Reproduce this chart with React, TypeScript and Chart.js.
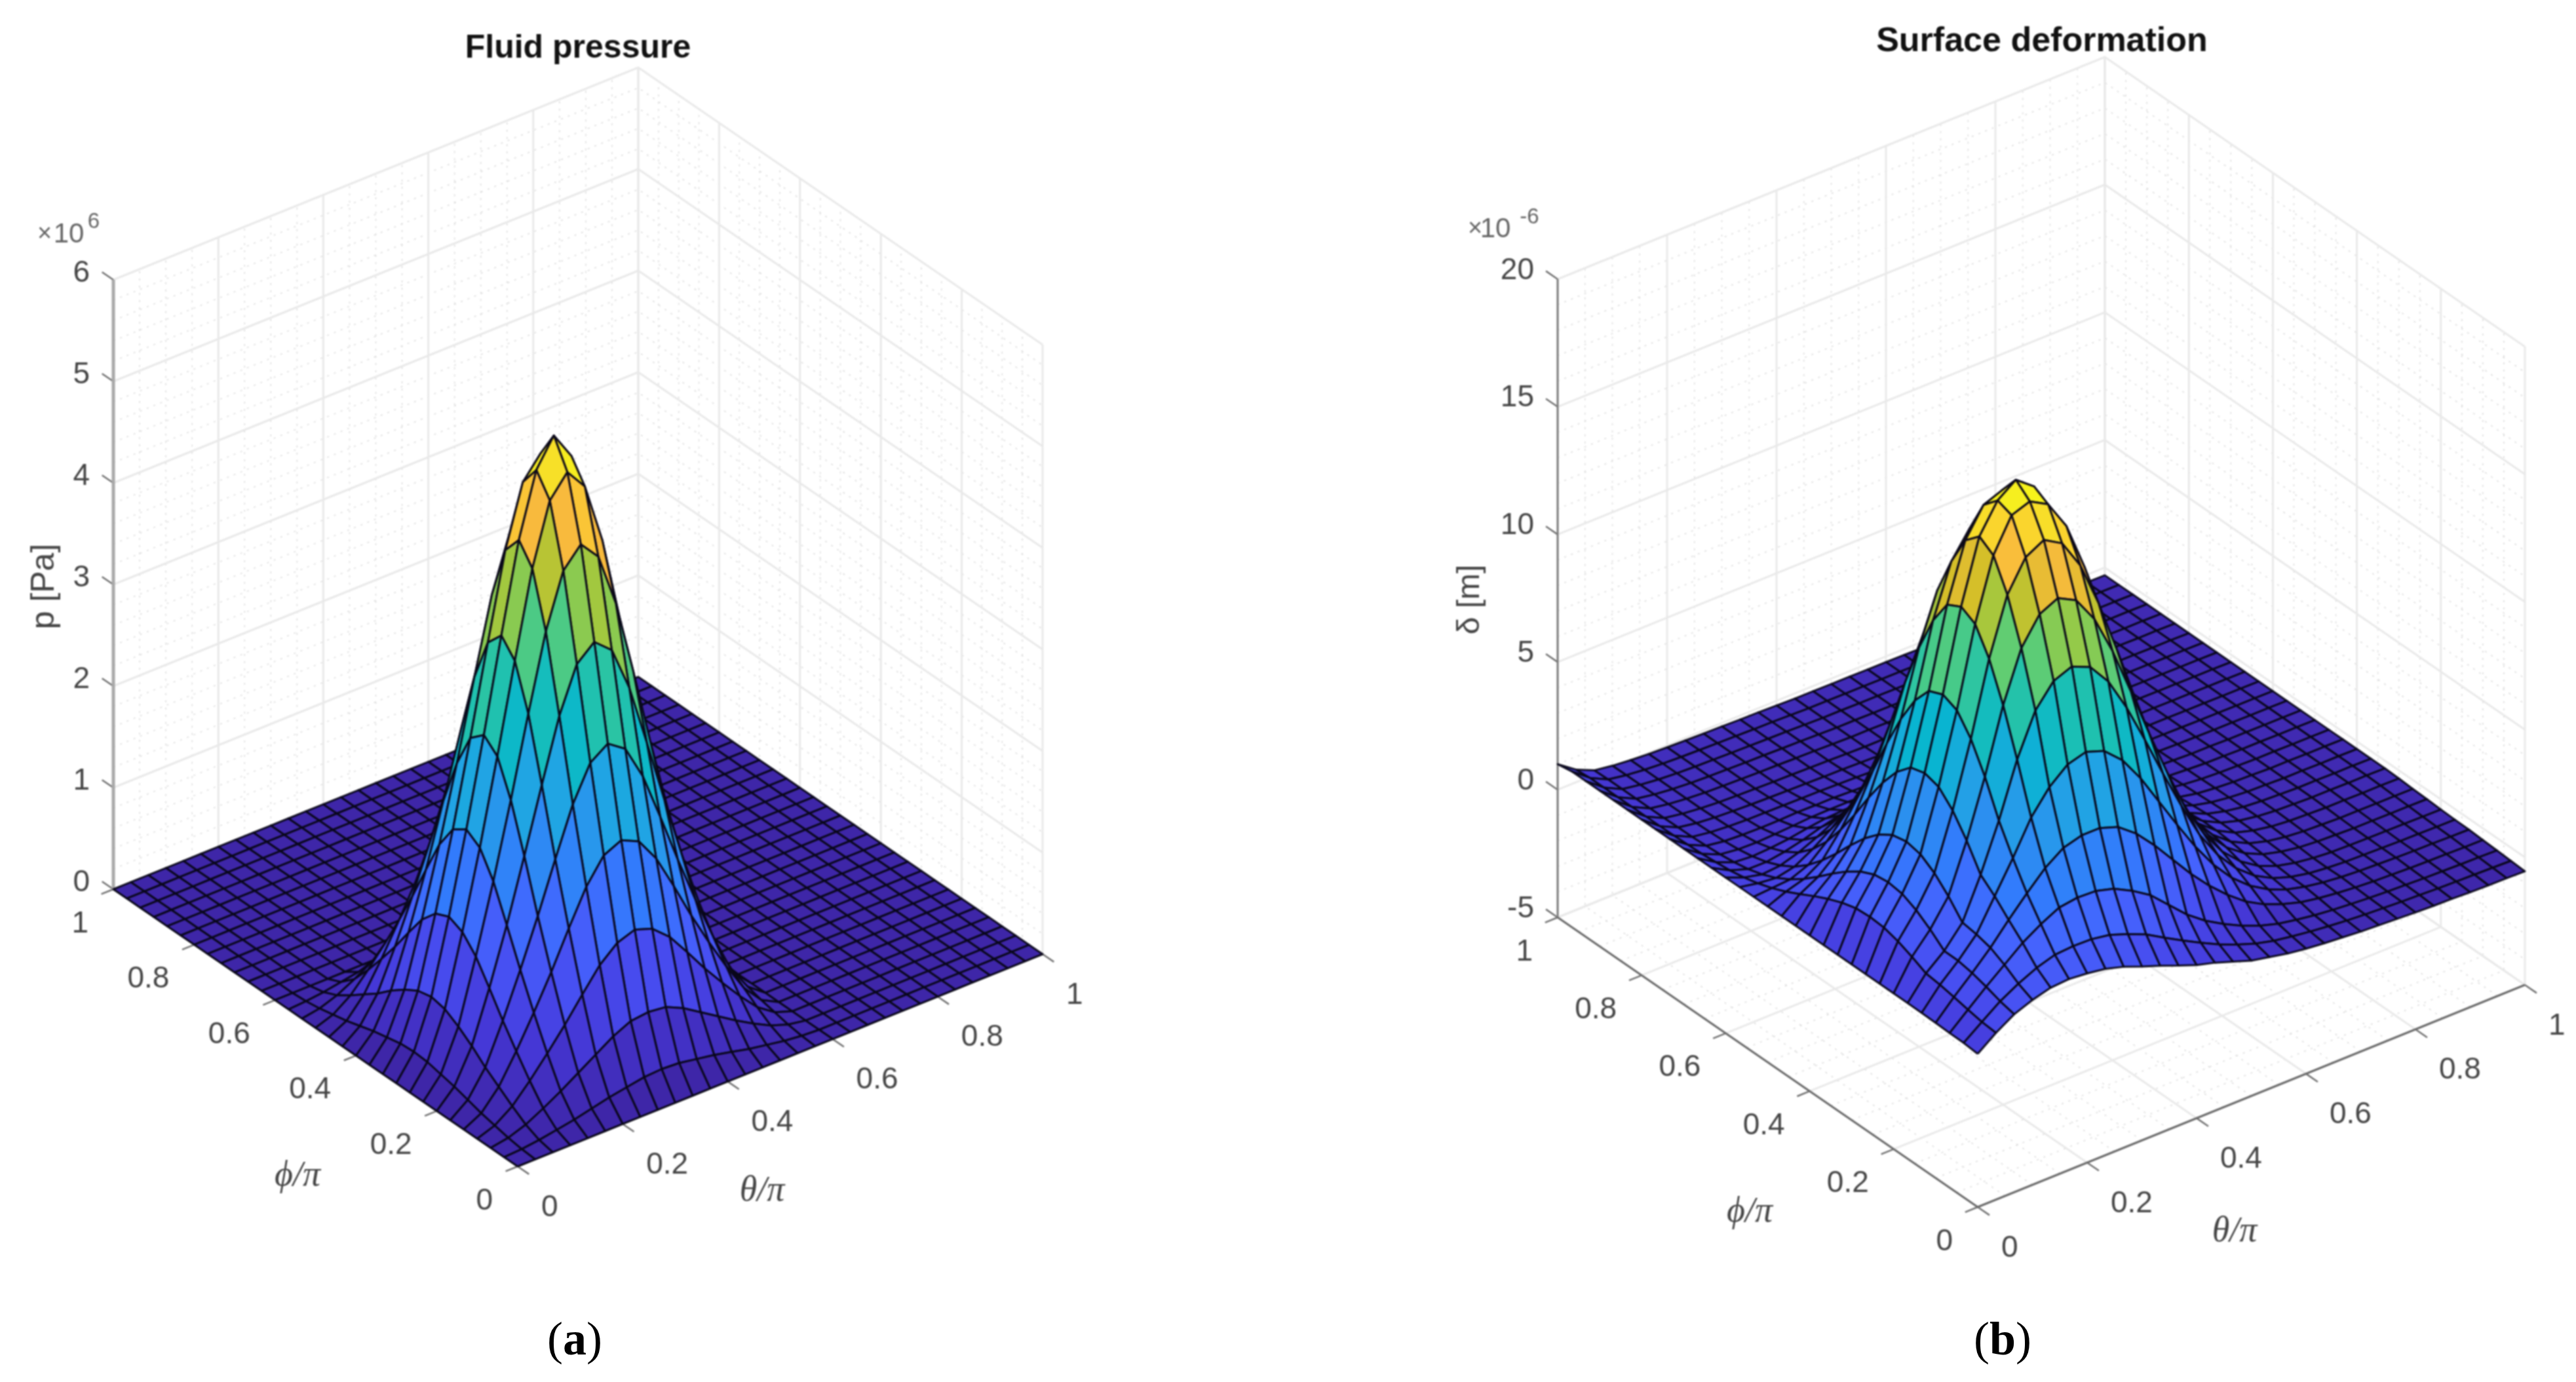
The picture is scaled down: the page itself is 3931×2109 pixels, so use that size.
import React, { useEffect, useRef } from "react";
import { Chart, registerables } from "chart.js";

Chart.register(...registerables);

// ---------- axis ticks ----------
const thetaTicks = [0, 0.2, 0.4, 0.6, 0.8, 1];
const phiTicks = [0, 0.2, 0.4, 0.6, 0.8, 1];
const pressureTicks = [0, 1, 2, 3, 4, 5, 6];
const deformationTicks = [-5, 0, 5, 10, 15, 20];
const gridCells = 30;

// ---------- parula colour map samples ----------
const parula = ["#3e26a8","#4537d5","#474df0","#4563fd","#327cfc","#2b91ef","#20a5e3","#08b5d0","#19bfb6","#37c897","#64cd6f","#9dc942","#d1bf27","#f8ba3d","#fccf30","#f5e924","#f9fb15"];

// ---------- fluid pressure, 10^6 Pa; rows: phi index, columns: theta index (omitted trailing cells are 0) ----------
const pressureRows: number[][] = [
[0],
[0,.01,.03,.06,.09,.13,.17,.20,.23,.24,.23,.20,.17,.13,.09,.06,.03,.01],
[0,.03,.09,.18,.28,.39,.50,.61,.69,.71,.69,.61,.50,.39,.28,.18,.09,.03],
[0,.06,.18,.36,.56,.77,1.0,1.22,1.37,1.43,1.37,1.22,1.0,.77,.56,.36,.18,.06],
[0,.09,.28,.56,.87,1.20,1.56,1.90,2.14,2.22,2.14,1.90,1.56,1.20,.87,.56,.28,.09],
[0,.13,.38,.77,1.20,1.66,2.15,2.62,2.96,3.08,2.96,2.62,2.15,1.66,1.20,.77,.38,.13],
[0,.17,.50,1.0,1.55,2.16,2.79,3.40,3.84,3.99,3.84,3.40,2.79,2.16,1.55,1.0,.50,.17],
[0,.20,.60,1.22,1.89,2.62,3.40,4.14,4.67,4.86,4.67,4.14,3.40,2.62,1.89,1.22,.60,.20],
[0,.23,.68,1.37,2.13,2.96,3.83,4.67,5.27,5.48,5.27,4.67,3.83,2.96,2.13,1.37,.68,.23],
[0,.24,.71,1.43,2.22,3.08,3.99,4.86,5.48,5.75,5.48,4.86,3.99,3.08,2.22,1.43,.71,.24],
[0,.23,.68,1.37,2.13,2.96,3.83,4.67,5.27,5.48,5.27,4.67,3.83,2.96,2.13,1.37,.68,.23],
[0,.20,.60,1.22,1.89,2.62,3.40,4.14,4.67,4.86,4.67,4.14,3.40,2.62,1.89,1.22,.60,.20],
[0,.17,.50,1.0,1.55,2.16,2.79,3.40,3.84,3.99,3.84,3.40,2.79,2.16,1.55,1.0,.50,.17],
[0,.13,.38,.77,1.20,1.66,2.15,2.62,2.96,3.08,2.96,2.62,2.15,1.66,1.20,.77,.38,.13],
[0,.09,.28,.56,.87,1.20,1.56,1.90,2.14,2.22,2.14,1.90,1.56,1.20,.87,.56,.28,.09],
[0,.06,.18,.36,.56,.77,1.0,1.22,1.37,1.43,1.37,1.22,1.0,.77,.56,.36,.18,.06],
[0,.03,.09,.18,.28,.39,.50,.61,.69,.71,.69,.61,.50,.39,.28,.18,.09,.03],
[0,.01,.03,.06,.09,.13,.17,.20,.23,.24,.23,.20,.17,.13,.09,.06,.03,.01],
[0],[0],[0],[0],[0],[0],[0],[0],[0],[0],[0],[0],[0],
];

// ---------- surface deformation, 10^-6 m; rows: phi index, columns: theta index ----------
const farRow = [1.1,.55,.2,.08,0,-.05,-.08,-.1,-.12,-.13,-.15,-.16,-.18,-.2,-.2,-.21,-.21,-.22,-.22,-.23,-.24,-.25,-.25,-.26,-.27,-.27,-.28,-.28,-.29,-.29,-.3];
const deformationRows: number[][] = [
[1.0,1.53,1.97,2.24,2.43,2.48,2.41,2.30,2.09,1.81,1.55,1.27,1.0,.8,.55,.3,.15,0,-.1,-.18,-.24,-.3,-.34,-.38,-.42,-.45,-.47,-.5,-.52,-.53,-.55],
[1.05,1.58,2.1,2.5,2.83,3.05,3.1,3.08,2.96,2.7,2.4,1.98,1.58,1.2,.85,.55,.3,.12,0,-.1,-.18,-.25,-.3,-.34,-.38,-.41,-.44,-.46,-.48,-.5,-.52],
[1.06,1.68,2.29,2.86,3.43,3.87,4.23,4.33,4.3,4.1,3.73,3.27,2.6,1.93,1.4,.98,.62,.33,.12,-.02,-.13,-.21,-.27,-.32,-.36,-.39,-.42,-.44,-.46,-.47,-.49],
[1.08,1.8,2.45,3.15,3.95,4.7,5.4,5.9,6.1,6.1,5.85,5.3,4.55,3.7,2.85,2.1,1.45,.9,.5,.22,0,-.13,-.22,-.29,-.34,-.37,-.4,-.42,-.43,-.45,-.46],
[1.09,1.9,2.55,3.3,4.5,5.7,7,7.9,8.5,8.7,8.45,7.8,6.8,5.6,4.4,3.25,2.25,1.45,.85,.42,.12,-.06,-.18,-.26,-.31,-.34,-.37,-.39,-.4,-.42,-.43],
[1.1,1.97,2.56,3.38,4.96,6.79,8.89,10.52,11.39,11.67,11.36,10.5,9.19,7.64,6.02,4.47,3.05,1.97,1.16,.58,.19,-.05,-.2,-.28,-.33,-.35,-.37,-.39,-.4,-.41,-.42],
[1.1,2.24,3.02,4.03,5.92,8.13,10.64,12.59,13.63,13.97,13.6,12.57,11.02,9.16,7.23,5.39,3.71,2.42,1.44,.76,.29,0,-.17,-.27,-.33,-.35,-.36,-.37,-.38,-.39,-.4],
[1.1,2.47,3.4,4.56,6.72,9.23,12.08,14.3,15.48,15.87,15.45,14.29,12.52,10.42,8.23,6.14,4.28,2.81,1.71,.93,.41,.08,-.11,-.23,-.29,-.32,-.35,-.35,-.36,-.36,-.37],
[1.1,2.63,3.66,4.92,7.27,9.98,13.07,15.47,16.75,17.0,16.6,15.46,13.56,11.29,8.92,6.66,4.67,3.09,1.89,1.05,.49,.13,-.08,-.2,-.27,-.3,-.33,-.33,-.34,-.34,-.35],
[1.1,2.67,3.74,5.04,7.43,10.22,13.37,15.83,16.95,17.47,16.92,15.7,13.87,11.55,9.13,6.82,4.81,3.19,1.97,1.11,.54,.17,-.04,-.17,-.24,-.27,-.3,-.3,-.31,-.31,-.32],
[1.1,2.63,3.66,4.92,7.27,9.98,13.07,15.3,16.4,16.68,16.2,15.1,13.4,11.29,8.92,6.66,4.72,3.14,1.94,1.1,.54,.18,-.03,-.15,-.22,-.25,-.28,-.28,-.29,-.29,-.3],
[1.1,2.47,3.4,4.56,6.72,9.23,12.08,14.1,15.1,15.3,14.9,14.0,12.4,10.42,8.23,6.14,4.35,2.88,1.78,1,.48,.15,-.04,-.16,-.22,-.25,-.28,-.28,-.29,-.29,-.3],
[1.1,2.24,3.02,4.03,5.92,8.13,10.64,12.59,13.63,13.97,13.6,12.57,11.02,9.16,7.23,5.39,3.81,2.52,1.54,.86,.39,.1,-.07,-.17,-.23,-.25,-.28,-.28,-.29,-.29,-.3],
[1.1,1.97,2.56,3.38,4.96,6.79,8.89,10.52,11.39,11.67,11.36,10.5,9.19,7.64,6.02,4.47,3.15,2.07,1.26,.68,.29,.05,-.1,-.18,-.23,-.25,-.28,-.28,-.29,-.29,-.3],
[1.1,1.67,2.06,2.68,3.91,5.34,6.99,8.27,8.95,9.17,8.92,8.24,7.2,5.98,4.7,3.48,2.44,1.58,.94,.49,.18,-.02,-.13,-.2,-.24,-.26,-.28,-.28,-.29,-.29,-.3],
[1.1,1.39,1.6,2.04,2.94,4.01,5.24,6.2,6.7,6.87,6.68,6.16,5.38,4.45,3.49,2.57,1.79,1.14,.66,.31,.08,-.07,-.16,-.21,-.25,-.26,-.28,-.28,-.29,-.29,-.3],
[1.1,1.15,1.2,1.48,2.1,2.85,3.72,4.4,4.76,4.87,4.73,4.36,3.79,3.12,2.44,1.78,1.22,.75,.41,.16,-.02,-.13,-.19,-.23,-.26,-.26,-.28,-.28,-.29,-.29,-.3],
[1.1,.96,.88,1.03,1.43,1.92,2.5,2.96,3.2,3.27,3.17,2.91,2.52,2.06,1.59,1.14,.76,.44,.21,.03,-.09,-.17,-.21,-.24,-.26,-.27,-.28,-.28,-.29,-.29,-.3],
[1.1,.81,.64,.7,.92,1.23,1.59,1.88,2.03,2.07,2,1.83,1.57,1.26,.96,.66,.42,.21,.06,-.06,-.14,-.2,-.22,-.25,-.26,-.27,-.28,-.28,-.29,-.29,-.3],
[1.1,.71,.47,.46,.57,.74,.95,1.12,1.21,1.23,1.18,1.07,.9,.7,.52,.33,.18,.04,-.05,-.13,-.18,-.22,-.23,-.25,-.27,-.27,-.28,-.28,-.29,-.29,-.3],
[1.1,.65,.36,.3,.34,.41,.53,.62,.66,.67,.63,.56,.46,.33,.22,.11,.02,-.06,-.12,-.17,-.2,-.23,-.24,-.26,-.27,-.27,-.28,-.28,-.29,-.29,-.3],
[1.1,.6,.29,.2,.18,.21,.25,.3,.31,.31,.28,.24,.17,.09,.03,-.04,-.08,-.13,-.17,-.2,-.22,-.24,-.24,-.26,-.27,-.27,-.28,-.28,-.29,-.29,-.3],
[1.1,.58,.25,.14,.1,.08,.09,.11,.1,.1,.07,.05,0,-.05,-.08,-.12,-.14,-.18,-.19,-.21,-.23,-.24,-.25,-.26,-.27,-.27,-.28,-.28,-.29,-.29,-.3],
[1.1,.56,.22,.11,.05,.02,.01,0,-.01,-.02,-.04,-.06,-.09,-.12,-.14,-.16,-.18,-.2,-.21,-.22,-.23,-.24,-.25,-.26,-.27,-.27,-.28,-.28,-.29,-.29,-.3],
[1.1,.55,.21,.09,.02,-.02,-.05,-.07,-.09,-.1,-.12,-.13,-.15,-.17,-.18,-.19,-.2,-.21,-.22,-.23,-.24,-.25,-.25,-.26,-.27,-.27,-.28,-.28,-.29,-.29,-.3],
farRow,farRow,farRow,farRow,farRow,
[1.0,.5,.18,.07,0,-.05,-.08,-.1,-.12,-.13,-.15,-.16,-.18,-.2,-.2,-.21,-.21,-.22,-.22,-.23,-.24,-.25,-.25,-.26,-.27,-.27,-.28,-.28,-.29,-.29,-.3],
];

// ---------- panel layout (projection of the 3D box onto the scatter plane) ----------
const panels = [
  {
    xRange: [0, 1966], rows: pressureRows, zTicks: pressureTicks, zMinor: 0.2, zMin: 0, zMax: 6, cMin: 0, cMax: 5.75,
    origin: [790, 1780], vTheta: [801, -324], vPhi: [-617, -423], zScale: 155, zLabelDy: -10,
    title: "Fluid pressure", titleSize: 50, titlePos: [882, 74], zTitle: "p [Pa]", zTitlePos: [68, 895], zTitleSize: 50,
    phiPos: [454, 1795], thetaPos: [1163, 1818], axisColor: "#a8a8a8", axisWidth: 5, tickColor: "#707070",
    expPos: { x: [68, 105, 143], y: [358, 339] }, exp: "6",
  },
  {
    xRange: [1966, 3931], rows: deformationRows, zTicks: deformationTicks, zMinor: 1, zMin: -5, zMax: 20, cMin: -0.55, cMax: 17.47,
    origin: [3018, 1842], vTheta: [835, -339], vPhi: [-641, -442], zScale: 38.96, zLabelDy: -13,
    title: "Surface deformation", titleSize: 52, titlePos: [3116, 64], zTitle: "δ [m]", zTitlePos: [2244, 915], zTitleSize: 48,
    phiPos: [2670, 1850], thetaPos: [3410, 1880], axisColor: "#7c7c7c", axisWidth: 3, tickColor: "#707070",
    expPos: { x: [2251, 2282, 2334], y: [350, 332] }, exp: "-6",
  },
];

const SANS = '"Liberation Sans", Arial, sans-serif';
const SERIF = '"Liberation Serif", serif';

function hexRgb(h: string) {
  return [parseInt(h.slice(1, 3), 16), parseInt(h.slice(3, 5), 16), parseInt(h.slice(5, 7), 16)];
}
function colourAt(t: number) {
  const c = Math.max(0, Math.min(1, t)) * (parula.length - 1);
  const k = Math.min(parula.length - 2, Math.floor(c));
  const a = hexRgb(parula[k]);
  const b = hexRgb(parula[k + 1]);
  const f = c - k;
  return `rgb(${a.map((v, n) => Math.round(v + (b[n] - v) * f)).join(",")})`;
}

function buildDatasets(p: any) {
  const proj = (th: number, ph: number, z: number) => ({
    x: p.origin[0] + th * p.vTheta[0] + ph * p.vPhi[0],
    y: p.origin[1] + th * p.vTheta[1] + ph * p.vPhi[1] - (z - p.zMin) * p.zScale,
  });
  const val = (i: number, j: number) => p.rows[j]?.[i] ?? 0;
  const line = (pts: any[], color: string, width: number, dash: number[] = []) => ({
    data: pts, showLine: true, borderColor: color, borderWidth: width, borderDash: dash,
    pointRadius: 0, fill: false, tension: 0, borderCapStyle: "butt",
  });

  const facets: any[] = [];
  for (let i = 0; i < gridCells; i++) {
    for (let j = 0; j < gridCells; j++) {
      const c = [[i, j], [i + 1, j], [i + 1, j + 1], [i, j + 1]];
      const vals = c.map(([a, b]) => val(a, b));
      const pts = c.map(([a, b], n) => proj(a / gridCells, b / gridCells, vals[n]));
      facets.push({
        data: [...pts, pts[0]], showLine: true, fill: "shape",
        backgroundColor: colourAt((vals[0] - p.cMin) / (p.cMax - p.cMin)),
        borderColor: "rgba(8,6,24,0.95)", borderWidth: 3, pointRadius: 0, tension: 0, borderJoinStyle: "round",
      });
    }
  }

  const axes: any[] = [];
  axes.push(line([proj(0, 1, p.zMin), proj(0, 1, p.zMax)], p.axisColor, p.axisWidth));
  axes.push(line([proj(0, 1, p.zMin), proj(0, 0, p.zMin)], "#6a6a6a", 3));
  axes.push(line([proj(0, 0, p.zMin), proj(1, 0, p.zMin)], "#6a6a6a", 3));
  const tk = p.tickColor;
  for (const v of phiTicks) axes.push(line([proj(0, v, p.zMin), proj(-0.023, v, p.zMin)], tk, 2.5));
  for (const v of thetaTicks) axes.push(line([proj(v, 0, p.zMin), proj(v, -0.028, p.zMin)], tk, 2.5));
  for (const v of p.zTicks) axes.push(line([proj(0, 1, v), proj(0, 1.028, v)], tk, 2.5));

  const major: any[] = [];
  const minor: any[] = [];
  for (const v of thetaTicks) {
    major.push(line([proj(v, 0, p.zMin), proj(v, 1, p.zMin), proj(v, 1, p.zMax)], "#e9e9e9", 3));
  }
  for (const v of phiTicks) {
    major.push(line([proj(0, v, p.zMin), proj(1, v, p.zMin), proj(1, v, p.zMax)], "#e9e9e9", 3));
  }
  for (const v of p.zTicks) {
    major.push(line([proj(0, 1, v), proj(1, 1, v), proj(1, 0, v)], "#e9e9e9", 3));
  }
  const dash = [3, 8];
  for (let k = 1; k < 20; k++) {
    if (k % 4 === 0) continue;
    const v = k / 20;
    minor.push(line([proj(v, 0, p.zMin), proj(v, 1, p.zMin), proj(v, 1, p.zMax)], "#dcdcdc", 1.6, dash));
    minor.push(line([proj(0, v, p.zMin), proj(1, v, p.zMin), proj(1, v, p.zMax)], "#dcdcdc", 1.6, dash));
  }
  const zStep = p.zTicks[1] - p.zTicks[0];
  for (let z = p.zMin; z < p.zMax; z += p.zMinor) {
    const onMajor = Math.abs(z / zStep - Math.round(z / zStep)) < 1e-6;
    if (!onMajor) minor.push(line([proj(0, 1, z), proj(1, 1, z), proj(1, 0, z)], "#dcdcdc", 1.6, dash));
  }
  return { datasets: [...facets, ...axes, ...major, ...minor], proj };
}

function textPlugin(p: any, proj: any) {
  return {
    id: "panelText",
    afterDraw(chart: any) {
      const { ctx, scales } = chart;
      const sx = (v: number) => scales.x.getPixelForValue(v);
      const sy = (v: number) => scales.y.getPixelForValue(v);
      const put = (s: string, x: number, y: number, font: string, color: string, align: any = "center", rot = 0) => {
        ctx.save();
        ctx.translate(sx(x), sy(y));
        if (rot) ctx.rotate(rot);
        ctx.font = font;
        ctx.fillStyle = color;
        ctx.textAlign = align;
        ctx.textBaseline = "middle";
        ctx.fillText(s, 0, 0);
        ctx.restore();
      };
      const tf = `46px ${SANS}`;
      const tc = "#454545";
      for (const v of p.zTicks) {
        const q = proj(0, 1, v);
        put(String(v), q.x - 36, q.y + p.zLabelDy, tf, tc, "right");
      }
      for (const v of phiTicks) {
        const q = proj(0, v, p.zMin);
        put(String(v), q.x - 38, q.y + 53, tf, tc, "right");
      }
      for (const v of thetaTicks) {
        const q = proj(v, 0, p.zMin);
        put(String(v), q.x + 36, q.y + 63, tf, tc, "left");
      }
      put(p.title, p.titlePos[0], p.titlePos[1], `bold ${p.titleSize}px ${SANS}`, "#111111");
      put(p.zTitle, p.zTitlePos[0], p.zTitlePos[1], `${p.zTitleSize}px ${SANS}`, tc, "center", -Math.PI / 2);
      put("ϕ/π", p.phiPos[0], p.phiPos[1], `italic 54px ${SERIF}`, tc);
      put("θ/π", p.thetaPos[0], p.thetaPos[1], `italic 54px ${SERIF}`, tc);
      put("×", p.expPos.x[0], p.expPos.y[0], `38px ${SANS}`, "#666666");
      put("10", p.expPos.x[1], p.expPos.y[0], `42px ${SANS}`, "#666666");
      put(p.exp, p.expPos.x[2], p.expPos.y[1], `33px ${SANS}`, "#666666");
    },
  };
}

function Panel({ p }: { p: any }) {
  const ref = useRef<HTMLCanvasElement | null>(null);
  useEffect(() => {
    const { datasets, proj } = buildDatasets(p);
    const chart = new Chart(ref.current as HTMLCanvasElement, {
      type: "scatter",
      data: { datasets },
      options: {
        responsive: false, animation: false, devicePixelRatio: 1, events: [],
        layout: { padding: 0 },
        scales: {
          x: { type: "linear", min: p.xRange[0], max: p.xRange[1], display: false },
          y: { type: "linear", min: 0, max: 2109, reverse: true, display: false },
        },
        plugins: { legend: { display: false }, tooltip: { enabled: false }, filler: { propagate: false } },
      },
      plugins: [textPlugin(p, proj)],
    } as any);
    return () => chart.destroy();
  }, [p]);
  const w = p.xRange[1] - p.xRange[0];
  return (
    <canvas ref={ref} width={w} height={2109}
      style={{ position: "absolute", left: p.xRange[0], top: 0, width: w, height: 2109, filter: "blur(0.9px)" }} />
  );
}

const captionStyle: React.CSSProperties = {
  position: "absolute", top: 2043, transform: "translate(-50%,-50%)",
  fontFamily: SERIF, fontSize: 72, color: "#000", lineHeight: 1,
};

export default function App() {
  useEffect(() => { document.body.style.margin = "0"; document.body.style.background = "#fff"; }, []);
  return (
    <div style={{ position: "absolute", left: 0, top: 0, width: 3931, height: 2109, background: "#fff", overflow: "hidden" }}>
      {panels.map((p, k) => <Panel key={k} p={p} />)}
      <div style={{ ...captionStyle, left: 877 }}>(<b>a</b>)</div>
      <div style={{ ...captionStyle, left: 3056 }}>(<b>b</b>)</div>
    </div>
  );
}
